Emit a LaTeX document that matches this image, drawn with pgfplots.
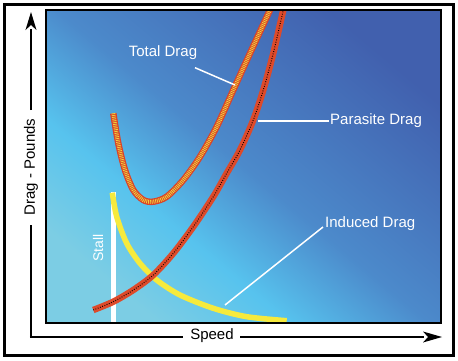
\documentclass[border=0pt]{standalone}
\usepackage{pgfplots}
\usepackage{pgfplotstable}
\pgfplotsset{compat=1.18}
\usepackage{fontspec}
\setmainfont{Liberation Sans}
\usetikzlibrary{arrows.meta,calc}
\definecolor{c0}{HTML}{7CCDE4}
\definecolor{c1}{HTML}{57C3EE}
\definecolor{c2}{HTML}{4C8ACB}
\definecolor{c3}{HTML}{4160AE}
\definecolor{tred}{HTML}{D8442A}
\definecolor{tyel}{HTML}{F2D23A}
\definecolor{pred}{HTML}{DD4A2A}
\definecolor{iyel}{HTML}{F6EA3C}
\pgfdeclareverticalshading{bgshade}{100bp}{color(0bp)=(c0); color(25bp)=(c0); color(37bp)=(c1); color(50bp)=(c2); color(75bp)=(c3); color(100bp)=(c3)}
\pgfplotstableread{
x y
113.3 246.7
118.3 216.7
125 190
133.3 170
143.3 160
153.3 158.3
166.7 163.3
183.3 180
200 203.3
216.7 233.3
233.3 270
250 306.7
270 350
}\total
\pgfplotstableread{
x y
93.3 50
113.3 58.3
133.3 70
153.3 85
173.3 106.7
193.3 133.3
213.3 163.3
226.7 186.7
240 210
253.3 240
263.3 270
273.3 306.7
283.3 350
}\parasite
\pgfplotstableread{
x y
112.3 167.3
116.7 143.3
126.7 116.7
140 96.7
156.7 80
180 65
213.3 51.7
246.7 43.3
286.7 39.3
}\induced
\begin{document}
\begin{tikzpicture}
\begin{axis}[x=1pt,y=1pt,xmin=46,xmax=441,ymin=37,ymax=350,
  xtick=\empty,ytick=\empty,
  axis line style={line width=2pt},
  axis background/.style={shade,shading=bgshade,shading angle=-40},
  clip mode=individual, axis on top]
% stall line
\draw[white,line width=5pt] (axis cs:114,37) -- (axis cs:114,168);
\node[white,rotate=90,font=\fontsize{14}{16}\selectfont] at (axis cs:98,112) {Stall};
% curves
\addplot[smooth, draw=iyel, line width=5.5pt] table {\induced};
\addplot[smooth, draw=pred, line width=6.5pt] table {\parasite};
\addplot[smooth, draw=black, line width=1pt, dash pattern=on 0.8pt off 1.6pt] table {\parasite};
\addplot[smooth, draw=tred, line width=6.5pt] table {\total};
\addplot[smooth, draw=tyel, line width=4pt, dash pattern=on 0.8pt off 1pt] table {\total};
% labels
\draw[white,line width=1.5pt] (axis cs:195,292.3) -- (axis cs:235,275);
\node[white,font=\fontsize{15}{18}\selectfont] at (axis cs:163,307) {Total Drag};
\draw[white,line width=1.5pt] (axis cs:258,239) -- (axis cs:329,239);
\node[white,anchor=west,inner sep=0pt,font=\fontsize{15}{18}\selectfont] at (axis cs:330,239) {Parasite Drag};
\draw[white,line width=1.5pt] (axis cs:225,55) -- (axis cs:323,133);
\node[white,anchor=west,inner sep=0pt,font=\fontsize{15}{18}\selectfont] at (axis cs:325,136) {Induced Drag};
\node[black,rotate=90,font=\fontsize{15}{18}\selectfont] at (axis cs:31,193) {Drag - Pounds};
\node[black,font=\fontsize{15}{18}\selectfont] at (axis cs:212,24) {Speed};
\coordinate (F1) at (axis cs:5,5);
\coordinate (F2) at (axis cs:453,356);
\coordinate (Y0) at (axis cs:31,23);
\coordinate (Y1) at (axis cs:31,135);
\coordinate (Y2) at (axis cs:31,250);
\coordinate (Y3) at (axis cs:31,331);
\coordinate (Y4) at (axis cs:31,348);
\coordinate (X0) at (axis cs:30,23);
\coordinate (X1) at (axis cs:183,23);
\coordinate (X2) at (axis cs:240,23);
\coordinate (X3) at (axis cs:424,23);
\coordinate (X4) at (axis cs:442,23);
\coordinate (B1) at (axis cs:0,0);
\coordinate (B2) at (axis cs:458,360);
\end{axis}
\draw[black,line width=3pt] (F1) rectangle (F2);
\draw[black,line width=1.5pt] (Y0) -- (Y1);
\draw[black,line width=1.5pt] (Y2) -- (Y3);
\fill[black] (Y4) -- ($(Y3)+(-5.5pt,-1pt)$) -- ($(Y3)+(0,4pt)$) -- ($(Y3)+(5.5pt,-1pt)$) -- cycle;
\draw[black,line width=1.5pt] (X0) -- (X1);
\draw[black,line width=1.5pt] (X2) -- (X3);
\fill[black] (X4) -- ($(X3)+(-1pt,5.5pt)$) -- ($(X3)+(4pt,0)$) -- ($(X3)+(-1pt,-5.5pt)$) -- cycle;
\path (B1) rectangle (B2);
\end{tikzpicture}
\end{document}
